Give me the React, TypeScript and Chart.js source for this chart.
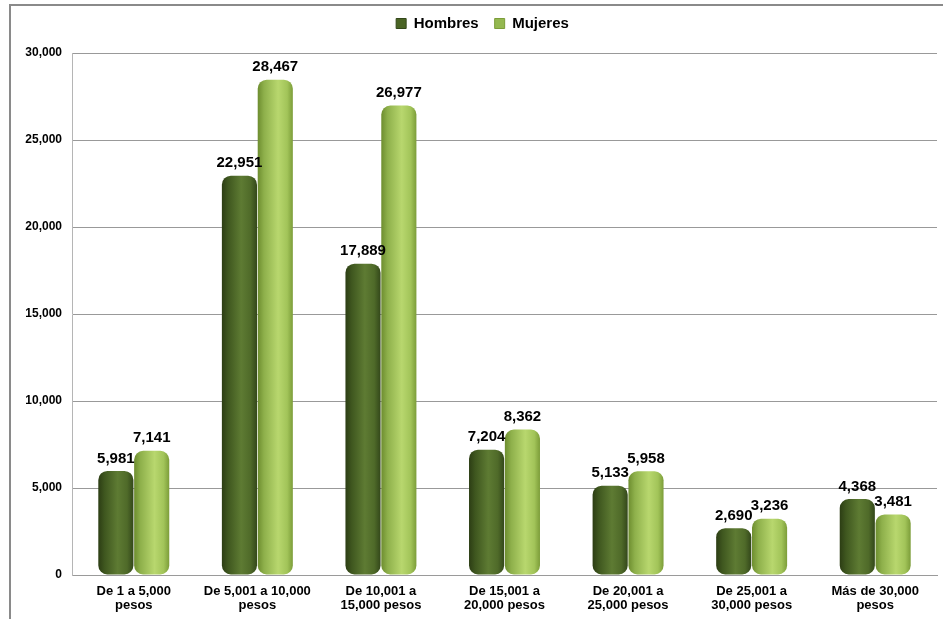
import React, { useEffect, useRef } from "react";
import { Chart, registerables } from "chart.js";

Chart.register(...registerables);

const categories: string[][] = [
  ["De 1 a 5,000", "pesos"],
  ["De 5,001 a 10,000", "pesos"],
  ["De 10,001 a", "15,000 pesos"],
  ["De 15,001 a", "20,000 pesos"],
  ["De 20,001 a", "25,000 pesos"],
  ["De 25,001 a", "30,000 pesos"],
  ["Más de 30,000", "pesos"],
];
const hombres: number[] = [5981, 22951, 17889, 7204, 5133, 2690, 4368];
const mujeres: number[] = [7141, 28467, 26977, 8362, 5958, 3236, 3481];
const yTicks: number[] = [0, 5000, 10000, 15000, 20000, 25000, 30000];

const FONT = "'Liberation Sans', Arial, Helvetica, sans-serif";
const CAT_PCT = 0.58;
const BAR_PCT = 0.98;

const stops: [number, string][][] = [
  [
    [0, "#2c3d14"],
    [0.18, "#3f571f"],
    [0.55, "#5e7b33"],
    [0.82, "#4f6a29"],
    [1, "#33471a"],
  ],
  [
    [0, "#6d8d2f"],
    [0.18, "#8eb04b"],
    [0.58, "#b8d76e"],
    [0.84, "#a2c459"],
    [1, "#7c9d39"],
  ],
];
const solid = ["#4a6424", "#94b850"];

function barFill(ctx: any) {
  const chart = ctx.chart;
  const ds = ctx.datasetIndex;
  const xs = chart.scales && chart.scales.x;
  if (!chart.chartArea || !xs || ctx.dataIndex === undefined) return solid[ds];
  const catW = xs.width / categories.length;
  const groupW = catW * CAT_PCT;
  const barW = (groupW / 2) * BAR_PCT;
  const center = xs.getPixelForValue(ctx.dataIndex);
  const barCenter = center - groupW / 2 + groupW / 4 + ds * (groupW / 2);
  const left = barCenter - barW / 2;
  const g = chart.ctx.createLinearGradient(left, 0, left + barW, 0);
  stops[ds].forEach(([o, c]) => g.addColorStop(o, c));
  return g;
}

const valueLabels = {
  id: "valueLabels",
  afterDatasetsDraw(chart: any) {
    const c = chart.ctx;
    c.save();
    c.font = `bold 15px ${FONT}`;
    c.fillStyle = "#000";
    c.textAlign = "center";
    c.textBaseline = "bottom";
    chart.data.datasets.forEach((d: any, i: number) => {
      const meta = chart.getDatasetMeta(i);
      meta.data.forEach((el: any, j: number) => {
        c.fillText(Number(d.data[j]).toLocaleString("en-US"), el.x, el.y - 5);
      });
    });
    c.restore();
  },
};

const legendTweak = {
  id: "legendTweak",
  afterInit(chart: any) {
    const lg = chart.legend;
    if (lg && !lg.__patched) {
      const origFit = lg.fit;
      lg.fit = function () {
        origFit.call(this);
        this.height = 53;
      };
      const origDraw = lg.draw;
      lg.draw = function () {
        const c = this.ctx;
        c.save();
        c.translate(14, 0);
        origDraw.call(this);
        c.restore();
      };
      lg.__patched = true;
    }
  },
};

export default function App() {
  const ref = useRef<HTMLCanvasElement | null>(null);
  useEffect(() => {
    if (!ref.current) return;
    const chart = new Chart(ref.current, {
      type: "bar",
      data: {
        labels: categories,
        datasets: [
          {
            label: "Hombres",
            data: hombres,
            backgroundColor: barFill,
            borderRadius: 9,
            borderSkipped: false,
            barPercentage: BAR_PCT,
            categoryPercentage: CAT_PCT,
          },
          {
            label: "Mujeres",
            data: mujeres,
            backgroundColor: barFill,
            borderRadius: 9,
            borderSkipped: false,
            barPercentage: BAR_PCT,
            categoryPercentage: CAT_PCT,
          },
        ],
      },
      options: {
        responsive: false,
        animation: false,
        events: [],
        layout: { padding: { left: 0, right: 6, top: 0, bottom: 0 } },
        plugins: {
          legend: {
            display: true,
            position: "top",
            labels: {
              boxWidth: 10,
              boxHeight: 10,
              padding: 16,
              color: "#000",
              font: { family: FONT, size: 15, weight: "bold" },
              generateLabels: () =>
                ["Hombres", "Mujeres"].map((t, i) => ({
                  text: t,
                  fillStyle: solid[i],
                  strokeStyle: i === 0 ? "#33471a" : "#7c9d39",
                  lineWidth: 1,
                  datasetIndex: i,
                  hidden: false,
                })),
            },
          },
          tooltip: { enabled: false },
        },
        scales: {
          x: {
            afterFit: (s: any) => {
              s.height = 44;
            },
            grid: { display: false, drawTicks: false },
            border: { display: true, color: "#9a9a9a", width: 1 },
            ticks: {
              color: "#000",
              padding: 9,
              maxRotation: 0,
              autoSkip: false,
              font: { family: FONT, size: 13, weight: "bold", lineHeight: 1.1 },
            },
          },
          y: {
            min: 0,
            max: 30000,
            afterFit: (s: any) => {
              s.width = 72;
            },
            afterBuildTicks: (s: any) => {
              s.ticks = yTicks.map((v) => ({ value: v }));
            },
            grid: { color: "#999999", lineWidth: 1, drawTicks: false },
            border: { display: true, color: "#b5b5b5", width: 1 },
            ticks: {
              color: "#000",
              padding: 10,
              font: { family: FONT, size: 12, weight: "bold" },
              callback: (v: any) => Number(v).toLocaleString("en-US"),
            },
          },
        },
      },
      plugins: [valueLabels, legendTweak],
    } as any);
    return () => chart.destroy();
  }, []);

  return (
    <div
      style={{
        position: "absolute",
        left: 0,
        top: 0,
        width: 943,
        height: 619,
        background: "#fff",
        overflow: "hidden",
      }}
    >
      <div
        style={{
          position: "absolute",
          left: 9,
          top: 4,
          right: -4,
          bottom: -4,
          borderTop: "2px solid #8a8a8a",
          borderLeft: "2px solid #8a8a8a",
        }}
      />
      <canvas
        ref={ref}
        width={943}
        height={619}
        style={{ position: "absolute", left: 0, top: 0, display: "block" }}
      />
    </div>
  );
}
